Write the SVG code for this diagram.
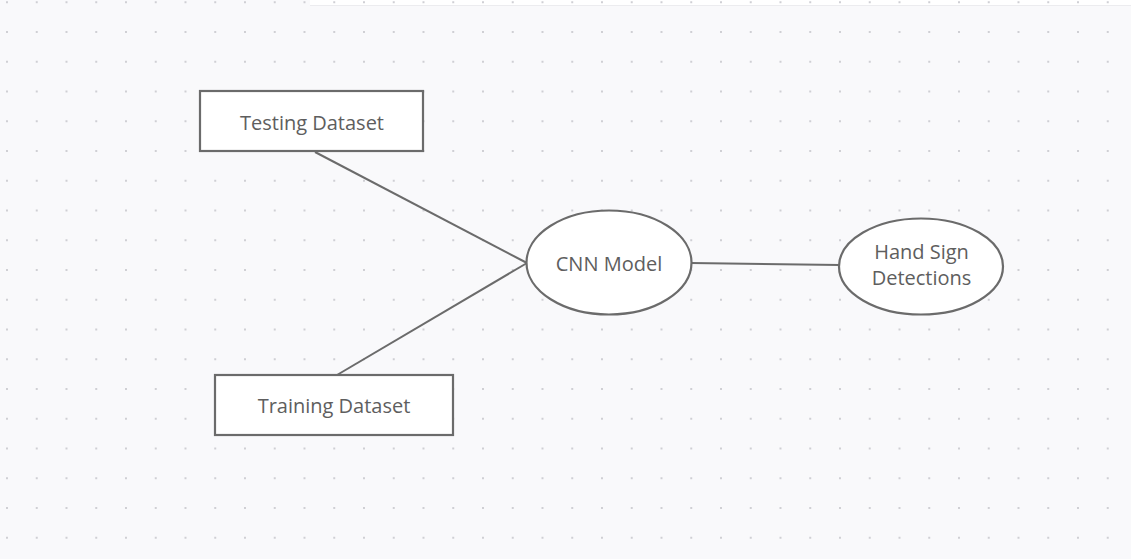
<svg xmlns="http://www.w3.org/2000/svg" width="1131" height="559" viewBox="0 0 1131 559">
<defs>
<pattern id="dots" x="6" y="31" width="29.75" height="29.75" patternUnits="userSpaceOnUse">
<rect x="0" y="0" width="2" height="2" fill="#cfcfd4"/>
</pattern>
<style>
.box{fill:#ffffff;stroke:#6b6b6b;stroke-width:2.2}
.conn{stroke:#6b6b6b;stroke-width:2;fill:none}
.lbl{font-family:"Open Sans","Noto Sans","Liberation Sans",sans-serif;font-size:20px;fill:#5e5e5e;text-anchor:middle}
</style>
</defs>
<rect width="1131" height="559" fill="#f9f9fb"/>
<rect x="310" y="0" width="821" height="5" fill="#ffffff"/>
<line x1="310" y1="5.5" x2="1131" y2="5.5" stroke="#ececef" stroke-width="1"/>
<rect width="1131" height="559" fill="url(#dots)"/>
<g id="connectors">
<line class="conn" x1="315" y1="152" x2="527" y2="263"/>
<line class="conn" x1="337" y1="375" x2="527" y2="263"/>
<line class="conn" x1="691" y1="263" x2="840" y2="265"/>
</g>
<g id="testing">
<rect class="box" x="200" y="91" width="223" height="60"/>
<text class="lbl" x="312" y="130">Testing Dataset</text>
</g>
<g id="training">
<rect class="box" x="215" y="375" width="238" height="60"/>
<text class="lbl" x="334" y="413">Training Dataset</text>
</g>
<g id="cnn">
<ellipse class="box" cx="609" cy="262.5" rx="82.5" ry="52"/>
<text class="lbl" x="609" y="271">CNN Model</text>
</g>
<g id="hand">
<ellipse class="box" cx="921" cy="266.5" rx="82" ry="48"/>
<text class="lbl" x="921.5" y="259">Hand Sign</text>
<text class="lbl" x="921.5" y="285">Detections</text>
</g>
</svg>
